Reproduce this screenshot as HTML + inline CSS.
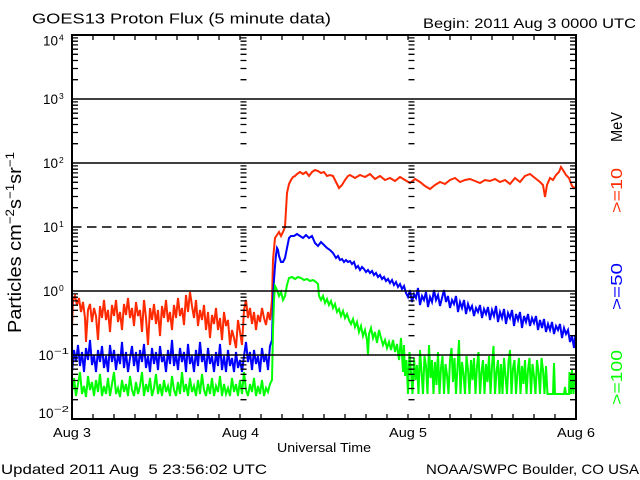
<!DOCTYPE html>
<html><head><meta charset="utf-8"><style>
html,body{margin:0;padding:0;background:#fff}
svg{display:block}
text{font-family:"Liberation Sans",sans-serif;fill:#000}
</style></head><body>
<svg width="640" height="480" viewBox="0 0 640 480" xmlns="http://www.w3.org/2000/svg">
<rect x="0" y="0" width="640" height="480" fill="#fff"/>
<defs>
<path id="tc" stroke="#000" stroke-width="1.3" fill="none" d="M0 79.7h6M0 68.5h6M0 60.5h6M0 54.3h6M0 49.2h6M0 44.9h6M0 41.2h6M0 37.9h6M0 143.7h6M0 132.5h6M0 124.5h6M0 118.3h6M0 113.2h6M0 108.9h6M0 105.2h6M0 101.9h6M0 207.7h6M0 196.5h6M0 188.5h6M0 182.3h6M0 177.2h6M0 172.9h6M0 169.2h6M0 165.9h6M0 271.7h6M0 260.5h6M0 252.5h6M0 246.3h6M0 241.2h6M0 236.9h6M0 233.2h6M0 229.9h6M0 335.7h6M0 324.5h6M0 316.5h6M0 310.3h6M0 305.2h6M0 300.9h6M0 297.2h6M0 293.9h6M0 399.7h6M0 388.5h6M0 380.5h6M0 374.3h6M0 369.2h6M0 364.9h6M0 361.2h6M0 357.9h6"/>
</defs>

<!-- data -->
<g fill="none" stroke-width="2" stroke-linejoin="miter">
<polyline stroke="#ff2a00" points="72,328 73,300 75,296 77,305 79,298 81,312 83,302 85,318 86,342 88,310 90,304 92,322 94,308 96,316 98,340 100,306 102,318 104,300 106,320 108,310 110,332 112,305 114,316 116,300 118,322 120,312 122,330 124,304 126,315 128,298 130,318 132,308 134,326 136,302 138,316 140,310 142,332 144,300 146,318 148,345 150,308 152,320 154,304 156,324 158,310 160,336 162,306 164,318 166,300 168,322 170,312 172,330 174,305 176,318 178,298 180,316 182,308 184,325 186,295 188,312 190,292 192,306 194,318 196,300 198,326 200,310 202,320 204,305 206,330 208,312 210,338 212,315 214,324 216,308 218,330 220,318 222,340 224,312 226,326 228,320 230,345 232,330 234,338 236,348 238,320 240,332 242,345 244,310 246,300 248,318 250,308 252,324 254,312 256,330 258,315 260,322 262,308 264,318 266,325 268,312 270,320 272,300 273,260 275,238 277,235 279,232 281,236 283,232 285,227 286,210 287,193 289,184 291,180 293,177 295,176 297,174 300,172 303,174 306,172 309,176 312,172 315,170 318,171 321,173 324,172 327,176 330,175 333,176 336,182 339,188 342,185 345,180 348,176 350,175 355,178 360,175 365,177 370,174 375,179 380,176 385,180 390,178 395,181 400,177 405,180 410,183 415,179 420,182 425,186 430,189 435,185 440,182 445,184 450,180 455,178 460,182 465,180 470,179 475,181 480,183 485,180 490,181 495,179 500,182 505,180 510,184 515,178 520,182 525,176 530,174 535,178 540,182 543,185 545,197 547,185 550,178 553,180 556,175 559,172 561,167 563,170 566,175 569,178 572,186 574,188 576,187"/>
<polyline stroke="#0000ff" points="72,372 74,350 76,362 78,345 80,366 82,352 84,372 86,348 88,360 90,340 92,365 94,355 96,372 98,350 100,362 102,346 104,368 106,356 108,372 110,345 112,362 114,350 116,370 118,354 120,364 122,342 124,368 126,352 128,372 130,358 132,346 134,366 136,352 138,372 140,350 142,362 144,344 146,368 148,356 150,372 152,348 154,364 156,352 158,370 160,346 162,362 164,356 166,372 168,350 170,364 172,340 174,366 176,354 178,370 180,348 182,362 184,352 186,372 188,344 190,364 192,356 194,372 196,350 198,366 200,342 202,362 204,354 206,372 208,348 210,364 212,356 214,372 216,352 218,366 220,344 222,370 224,356 226,372 228,350 230,366 232,358 234,372 236,352 238,368 240,360 242,372 244,356 246,342 248,362 250,352 252,370 254,350 256,364 258,356 260,372 262,348 264,362 266,354 268,370 270,346 272,340 273,300 274,280 275,266 276,255 277,248 278,250 279,256 281,262 283,262 285,258 287,248 289,238 291,236 294,236 297,234 300,236 303,238 306,235 309,238 312,236 315,243 318,246 321,242 324,245 327,248 330,250 333,253 336,258 338,256 340,260 342,259 344,262 346,260 348,262 350,261 352,264 354,262 356,268 358,266 360,270 362,267 364,269 366,272 368,270 370,273 372,271 374,275 376,273 378,277 380,275 382,279 384,277 386,281 388,279 390,283 392,280 394,285 396,282 398,287 400,284 402,289 404,286 406,293 408,297 410,290 412,302 414,294 416,298 418,288 420,305 422,296 424,300 426,292 428,307 430,297 432,302 434,290 436,300 438,295 440,306 442,298 444,290 446,302 448,296 450,308 452,300 454,304 456,296 458,312 460,302 462,308 464,300 466,314 468,304 470,310 472,306 474,316 476,308 478,312 480,305 482,318 484,309 486,314 488,307 490,320 492,310 494,316 496,306 498,322 500,312 502,318 504,309 506,324 508,313 510,318 512,310 514,326 516,314 518,320 520,312 522,328 524,316 526,322 528,314 530,326 532,318 534,323 536,316 538,330 540,320 542,328 544,319 546,332 548,324 550,330 552,322 554,334 556,326 558,330 560,324 562,338 564,328 566,334 568,330 570,342 572,336 574,348 575,338 576,340"/>
<polyline stroke="#00ff00" points="72,392 74,378 76,396 78,384 80,372 82,394 84,386 86,397 88,376 90,390 92,382 94,396 96,380 98,392 100,374 102,396 104,386 106,394 108,378 110,396 112,384 114,372 116,394 118,388 120,397 122,380 124,392 126,384 128,396 130,376 132,390 134,396 136,382 138,394 140,386 142,372 144,396 146,384 148,392 150,378 152,396 154,388 156,374 158,394 160,384 162,396 164,380 166,392 168,386 170,396 172,376 174,390 176,396 178,382 180,394 182,372 184,392 186,384 188,396 190,378 192,392 194,386 196,396 198,380 200,394 202,374 204,390 206,396 208,384 210,394 212,378 214,396 216,386 218,392 220,376 222,396 224,384 226,394 228,388 230,396 232,378 234,392 236,384 238,396 240,380 242,394 244,372 246,390 248,396 250,384 252,392 254,378 256,396 258,386 260,394 262,380 264,396 266,388 268,392 270,384 272,380 273,330 274,300 275,286 277,290 279,296 281,292 283,300 285,296 287,285 289,278 292,277 295,279 298,277 301,278 304,280 307,279 310,281 313,280 316,282 318,284 319,296 321,300 323,296 325,303 327,299 329,305 331,301 333,308 335,304 337,312 339,309 341,316 343,311 345,318 347,314 349,320 351,324 353,319 355,327 357,322 359,332 361,326 363,336 365,330 367,340 368,355 369,334 371,328 373,338 375,332 377,343 379,330 381,338 383,345 385,340 387,348 389,342 391,350 393,340 395,352 397,344 399,360 401,338 403,372 404,345 405,376 406.5,360 408,394 409.5,352 411,372 412.5,394 414,358 415.5,380 417,365 418.5,394 420,350 421.5,372 423,394 424.5,356 426,366 427.5,394 429,345 430.5,378 432,360 433.5,394 435,362 436.5,385 438,352 439.5,394 441,368 442.5,356 444,394 445.5,364 447,375 448.5,394 450,360 451.5,348 453,382 454.5,358 456,394 457.5,368 459,340 460.5,394 462,362 463.5,374 465,394 466.5,356 468,370 469.5,394 471,360 472.5,380 474,358 475.5,394 477,366 478.5,352 480,394 481.5,372 483,360 484.5,394 486,364 487.5,382 489,356 490.5,394 492,366 493.5,346 495,394 496.5,372 498,360 499.5,394 501,364 502.5,394 504,358 505.5,376 507,394 508.5,362 510,350 511.5,394 513,368 514.5,360 516,394 517.5,372 519,358 520.5,394 522,366 523.5,384 525,360 526.5,394 528,370 529.5,358 531,394 532.5,364 534,376 535.5,394 537,360 538.5,372 540,394 541.5,358 543,370 544.5,394 546,366 547.5,394 553,394 554,363 555,394 564,394 565,387 566,394 569,394 569.5,372 571,394 572,370 573.5,394 574.5,373 576,380"/>
</g>

<!-- grid lines -->
<g stroke="#000" stroke-width="1.6" fill="none">
<path d="M72 99H576M72 163H576M72 291H576M72 355H576"/>
<path d="M72 227H576" stroke-dasharray="9.5 5.5"/>
</g>

<!-- minor tick columns -->
<use href="#tc" x="72" y="0"/>
<use href="#tc" x="240.5" y="0"/>
<use href="#tc" x="408.5" y="0"/>
<use href="#tc" x="570" y="0"/>

<!-- time ticks -->
<path stroke="#000" stroke-width="1.3" fill="none" d="M93 419v-5M114 419v-5M135 419v-5M156 419v-5M177 419v-5M198 419v-5M219 419v-5M240 419v-5M261 419v-5M282 419v-5M303 419v-5M324 419v-5M345 419v-5M366 419v-5M387 419v-5M408 419v-5M429 419v-5M450 419v-5M471 419v-5M492 419v-5M513 419v-5M534 419v-5M555 419v-5M93 35v5M114 35v5M135 35v5M156 35v5M177 35v5M198 35v5M219 35v5M240 35v5M261 35v5M282 35v5M303 35v5M324 35v5M345 35v5M366 35v5M387 35v5M408 35v5M429 35v5M450 35v5M471 35v5M492 35v5M513 35v5M534 35v5M555 35v5"/>

<!-- axes box -->
<rect x="72" y="35" width="504" height="384" fill="none" stroke="#000" stroke-width="2"/>

<!-- titles -->
<text x="32" y="23.5" font-size="14.5" textLength="299" lengthAdjust="spacingAndGlyphs">GOES13 Proton Flux (5 minute data)</text>
<text x="423" y="28" font-size="14" textLength="213" lengthAdjust="spacingAndGlyphs">Begin: 2011 Aug 3 0000 UTC</text>

<!-- y tick labels -->
<g font-size="14">
<text x="43" y="45.5" textLength="15" lengthAdjust="spacingAndGlyphs">10</text>
<text x="43" y="104" textLength="15" lengthAdjust="spacingAndGlyphs">10</text>
<text x="43" y="168" textLength="15" lengthAdjust="spacingAndGlyphs">10</text>
<text x="43" y="232" textLength="15" lengthAdjust="spacingAndGlyphs">10</text>
<text x="43" y="296" textLength="15" lengthAdjust="spacingAndGlyphs">10</text>
<text x="38.5" y="360" textLength="15" lengthAdjust="spacingAndGlyphs">10</text>
<text x="38.5" y="418" textLength="15" lengthAdjust="spacingAndGlyphs">10</text>
</g>
<g font-size="8.5">
<text x="59" y="40.5">4</text>
<text x="59" y="99">3</text>
<text x="59" y="163">2</text>
<text x="59" y="227">1</text>
<text x="59" y="291">0</text>
<text x="54" y="354" textLength="15" lengthAdjust="spacingAndGlyphs">−1</text>
<text x="54" y="412" textLength="15" lengthAdjust="spacingAndGlyphs">−2</text>
</g>

<!-- y axis title -->
<text transform="translate(21,333) rotate(-90)" font-size="18" textLength="181" lengthAdjust="spacingAndGlyphs">Particles cm<tspan font-size="12" dy="-7">−2</tspan><tspan dy="7">s</tspan><tspan font-size="12" dy="-7">−1</tspan><tspan dy="7">sr</tspan><tspan font-size="12" dy="-7">−1</tspan></text>

<!-- right labels -->
<text transform="translate(622,142) rotate(-90)" font-size="16" textLength="30" lengthAdjust="spacingAndGlyphs">MeV</text>
<text transform="translate(622,213) rotate(-90)" font-size="16" textLength="45" lengthAdjust="spacingAndGlyphs" style="fill:#ff2a00">&gt;=10</text>
<text transform="translate(622,310) rotate(-90)" font-size="16" textLength="47" lengthAdjust="spacingAndGlyphs" style="fill:#0000ff">&gt;=50</text>
<text transform="translate(622,405) rotate(-90)" font-size="16" textLength="55" lengthAdjust="spacingAndGlyphs" style="fill:#00ff00">&gt;=100</text>

<!-- x labels -->
<g font-size="13">
<text x="53" y="437" textLength="38" lengthAdjust="spacingAndGlyphs">Aug 3</text>
<text x="222" y="437" textLength="37" lengthAdjust="spacingAndGlyphs">Aug 4</text>
<text x="389" y="437" textLength="38" lengthAdjust="spacingAndGlyphs">Aug 5</text>
<text x="557" y="437" textLength="38" lengthAdjust="spacingAndGlyphs">Aug 6</text>
<text x="277" y="452" textLength="94" lengthAdjust="spacingAndGlyphs">Universal Time</text>
</g>
<text x="1" y="474" font-size="14" textLength="266" lengthAdjust="spacingAndGlyphs">Updated 2011 Aug&#160; 5 23:56:02 UTC</text>
<text x="426" y="474" font-size="14" textLength="213" lengthAdjust="spacingAndGlyphs">NOAA/SWPC Boulder, CO USA</text>
</svg>
</body></html>
